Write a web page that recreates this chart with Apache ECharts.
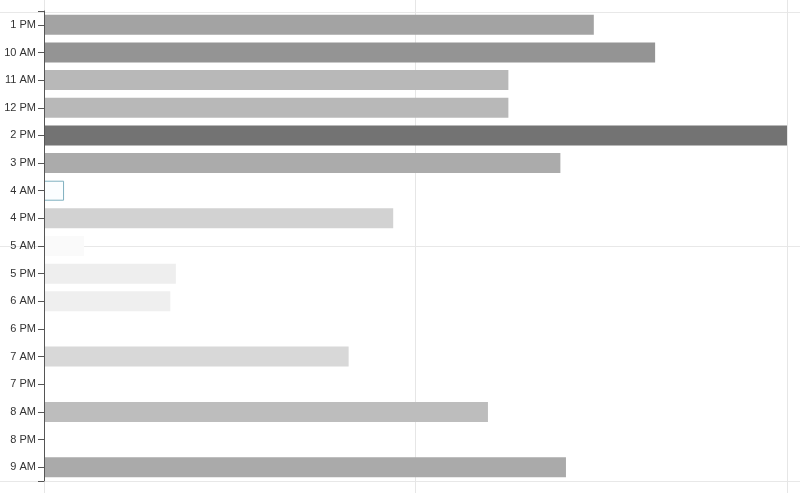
<!DOCTYPE html>
<html>
<head>
<meta charset="utf-8">
<script src="https://cdn.jsdelivr.net/npm/echarts@6/dist/echarts.min.js"></script>
<style>
  html, body { margin: 0; padding: 0; background: #ffffff; }
  #chart { width: 800px; height: 493px; }
</style>
</head>
<body>
<div id="chart"></div>
<script>
// Categories (top to bottom)
const categories = ['1 PM', '10 AM', '11 AM', '12 PM', '2 PM', '3 PM', '4 AM', '4 PM', '5 AM', '5 PM', '6 AM', '6 PM', '7 AM', '7 PM', '8 AM', '8 PM', '9 AM'];
// Values
const values = [14.8, 16.45, 12.5, 12.5, 20, 13.9, 0.54, 9.4, 1.08, 3.55, 3.4, 0, 8.2, 0, 11.95, 0, 14.05];
// Category whose bar is drawn as highlighted (outlined)
const highlighted = '4 AM';

const seriesData = values.map((v, i) => {
  if (categories[i] === highlighted) {
    return { value: v, itemStyle: { color: '#fbfeff', borderColor: '#7fb0bf', borderWidth: 1 } };
  }
  return v;
});

const chart = echarts.init(document.getElementById('chart'));
chart.setOption({
  animation: false,
  backgroundColor: '#ffffff',
  textStyle: { fontFamily: 'Liberation Sans, Arial, sans-serif' },
  visualMap: {
    show: false,
    type: 'continuous',
    seriesIndex: 0,
    dimension: 0,
    min: 0,
    max: 20,
    inRange: { color: ['#ffffff', '#cfcfcf', '#737373'] }
  },
  grid: [
    { left: 44, right: 13, top: 11, bottom: 12 },
    { left: 44, right: 13, top: 0, bottom: 0 },
    { left: 0, right: 0, top: 12, bottom: 12 },
    { left: 44, right: 13, top: 11, bottom: 12 }
  ],
  xAxis: [
    { gridIndex: 0, type: 'value', min: 0, max: 20, show: false },
    { gridIndex: 1, type: 'value', min: 0, max: 2, interval: 1,
      axisLine: { show: false }, axisTick: { show: false }, axisLabel: { show: false },
      splitLine: { show: true, lineStyle: { color: '#e6e6e6', width: 1 } } },
    { gridIndex: 2, type: 'value', min: 0, max: 1, show: false },
    { gridIndex: 3, type: 'value', min: 0, max: 1, show: false }
  ],
  yAxis: [
    { gridIndex: 0, type: 'category', data: categories, inverse: true, z: 10,
      axisLine: { show: true, lineStyle: { color: '#555555', width: 1 } },
      axisTick: { show: true, alignWithLabel: true, length: 6, lineStyle: { color: '#555555' } },
      axisLabel: { margin: 8, fontSize: 11, color: '#333333' },
      splitLine: { show: false } },
    { gridIndex: 1, type: 'value', min: 0, max: 1, show: false },
    { gridIndex: 2, type: 'value', min: 0, max: 2, interval: 1, inverse: true,
      axisLine: { show: false }, axisTick: { show: false }, axisLabel: { show: false },
      splitLine: { show: true, lineStyle: { color: '#e8e8e8', width: 1 } } },
    { gridIndex: 3, type: 'value', min: 0, max: 1, interval: 1, position: 'left', z: 10,
      axisLine: { show: false },
      axisTick: { show: true, length: 6, lineStyle: { color: '#555555' } },
      axisLabel: { show: false }, splitLine: { show: false } }
  ],
  series: [
    {
      type: 'bar',
      xAxisIndex: 0,
      yAxisIndex: 0,
      data: seriesData,
      barWidth: 20,
      z: 5
    }
  ]
});
</script>
</body>
</html>
